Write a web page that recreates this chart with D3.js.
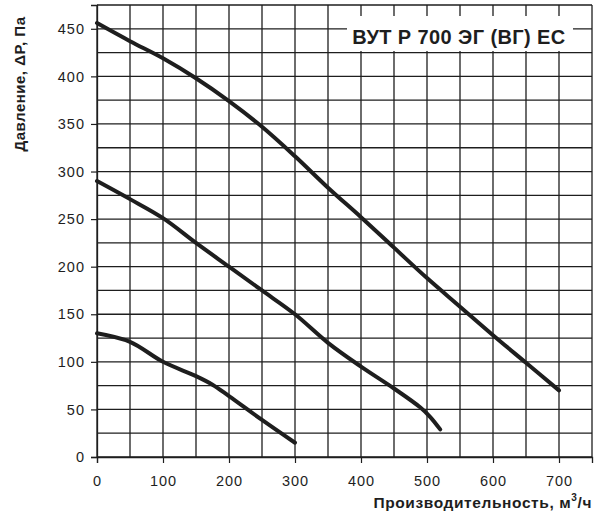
<!DOCTYPE html>
<html>
<head>
<meta charset="utf-8">
<script src="https://cdn.jsdelivr.net/npm/d3@7"></script>
<style>
  body { margin: 0; background: #fff; }
  svg { display: block; font-family: "Liberation Sans", Arial, sans-serif; }
</style>
</head>
<body>
<div id="chart"></div>
<script>
// Кривые вентилятора (расход м3/ч, давление Па)
const flowHigh = [0, 50, 100, 150, 200, 250, 300, 350, 400, 450, 500, 550, 600, 650, 700];
const presHigh = [456, 437, 419, 398, 374, 347, 316, 283, 252, 220, 188, 158, 128, 99, 70];

const flowMid = [0, 50, 100, 150, 200, 250, 300, 350, 400, 450, 490, 505, 520];
const presMid = [290, 271, 251, 225, 200, 175, 150, 120, 95, 72, 52, 42, 29];

const flowLow = [0, 50, 100, 150, 175, 200, 250, 300];
const presLow = [130, 121, 100, 85, 76, 64, 39, 15];

const xTicks = [0, 100, 200, 300, 400, 500, 600, 700];
const yTicks = [0, 50, 100, 150, 200, 250, 300, 350, 400, 450];
const title = "ВУТ Р 700 ЭГ (ВГ) ЕС";

const W = 595, H = 516;
const margin = {top: 5, right: 3, bottom: 59, left: 97},
      width = W - margin.left - margin.right,
      height = H - margin.top - margin.bottom;

const svg = d3.select("#chart").append("svg")
    .attr("width", W).attr("height", H);

const g = svg.append("g").attr("transform", `translate(${margin.left},${margin.top})`);

const x = d3.scaleLinear().domain([0, 750]).range([0, width]);
const y = d3.scaleLinear().domain([0, 475]).range([height, 0]);

const ink = "#1e1e1e";

// Сетка
g.append("g").selectAll("line")
    .data(d3.range(0, 751, 50))
    .join("line")
    .attr("x1", d => x(d)).attr("x2", d => x(d))
    .attr("y1", 0).attr("y2", height)
    .attr("stroke", ink).attr("stroke-width", 1.3);

g.append("g").selectAll("line")
    .data(d3.range(0, 476, 25))
    .join("line")
    .attr("y1", d => y(d)).attr("y2", d => y(d))
    .attr("x1", 0).attr("x2", width)
    .attr("stroke", ink).attr("stroke-width", 1.3);

// Оси
const xAxis = g.append("g")
    .attr("transform", `translate(0,${height})`)
    .call(d3.axisBottom(x).tickValues(xTicks).tickSize(6).tickPadding(13));
const yAxis = g.append("g")
    .call(d3.axisLeft(y).tickValues(yTicks).tickSize(6).tickPadding(7));

[xAxis, yAxis].forEach(a => {
    a.select(".domain").attr("stroke", ink).attr("stroke-width", 1.3);
    a.selectAll(".tick line").attr("stroke", ink).attr("stroke-width", 1.2);
    a.selectAll("text").attr("fill", ink).style("font-size", "14.5px")
        .style("letter-spacing", "1px")
        .style("font-family", "'Liberation Sans', Arial, sans-serif");
});
yAxis.selectAll("text").attr("dx", 1);

// Кривые
const line = d3.line()
    .x(d => x(d[0])).y(d => y(d[1]))
    .curve(d3.curveCatmullRom.alpha(0.5));

[[flowHigh, presHigh], [flowMid, presMid], [flowLow, presLow]].forEach(([fx, py]) => {
    g.append("path")
        .datum(fx.map((v, i) => [v, py[i]]))
        .attr("d", line)
        .attr("fill", "none")
        .attr("stroke", ink)
        .attr("stroke-width", 4)
        .attr("stroke-linecap", "round")
        .attr("stroke-linejoin", "round");
});

// Заголовок в рамке
svg.append("rect")
    .attr("x", 347).attr("y", 16)
    .attr("width", 226).attr("height", 35)
    .attr("fill", "#fff");

svg.append("text")
    .attr("x", 459).attr("y", 44)
    .attr("text-anchor", "middle")
    .attr("font-weight", "bold")
    .attr("font-size", "20px")
    .attr("letter-spacing", "0.4px")
    .attr("fill", ink)
    .text(title);

// Подписи осей
svg.append("text")
    .attr("transform", "translate(25,84) rotate(-90)")
    .attr("text-anchor", "middle")
    .attr("font-weight", "bold")
    .attr("font-size", "15px")
    .attr("letter-spacing", "0.5px")
    .attr("fill", ink)
    .text("Давление, ΔP, Па");

const xl = svg.append("text")
    .attr("x", 592).attr("y", 508)
    .attr("text-anchor", "end")
    .attr("font-weight", "bold")
    .attr("font-size", "15.5px")
    .attr("letter-spacing", "0.6px")
    .attr("fill", ink);
xl.append("tspan").text("Производительность, м");
xl.append("tspan").attr("dy", -7).attr("font-size", "10px").text("3");
xl.append("tspan").attr("dy", 7).text("/ч");
</script>
</body>
</html>
